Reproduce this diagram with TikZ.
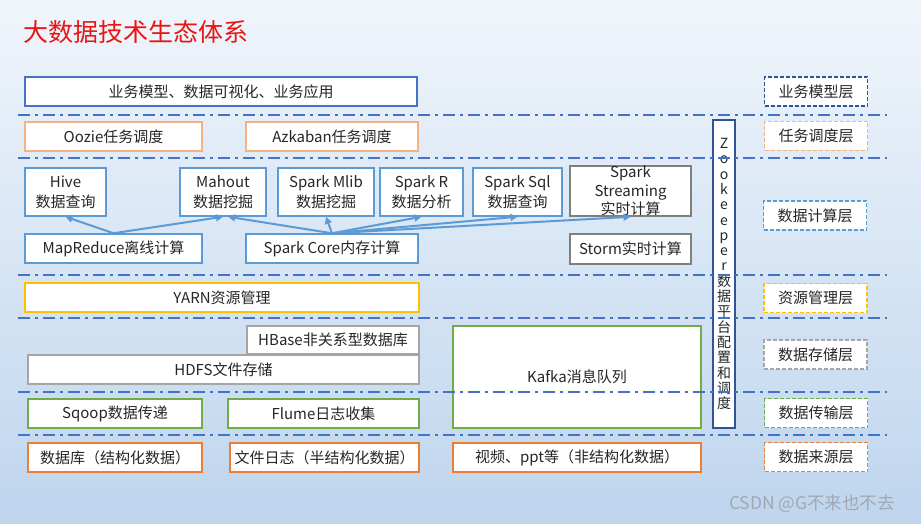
\documentclass[tikz,border=0pt]{standalone}
\usepackage{fontspec}
\setmainfont{Noto Sans CJK SC}
\usepackage{tikz}
\usetikzlibrary{arrows.meta}
\definecolor{sepblue}{HTML}{4472C4}
\definecolor{appblue}{HTML}{4472C4}
\definecolor{taskorange}{HTML}{F4B183}
\definecolor{calcblue}{HTML}{5B9BD5}
\definecolor{darkgray}{HTML}{7F7F7F}
\definecolor{lightgray}{HTML}{A5A5A5}
\definecolor{resyellow}{HTML}{FFC000}
\definecolor{transgreen}{HTML}{70AD47}
\definecolor{srcorange}{HTML}{ED7D31}
\definecolor{zkblue}{HTML}{2F5597}
\definecolor{txt}{HTML}{262626}
\newcommand{\boxfont}{\fontsize{15}{20}\selectfont}

\begin{document}
\begin{tikzpicture}[
  x=1pt, y=-1pt,
  box/.style={rectangle, fill=white, line width=1.5pt, inner sep=0pt, align=center, text=txt, font=\boxfont},
  appbox/.style={box, draw=appblue},
  taskbox/.style={box, draw=taskorange},
  calcbox/.style={box, draw=calcblue},
  rtbox/.style={box, draw=darkgray},
  resbox/.style={box, draw=resyellow},
  storebox/.style={box, draw=lightgray},
  transbox/.style={box, draw=transgreen},
  srcbox/.style={box, draw=srcorange},
  layerbox/.style={box, dash pattern=on 4pt off 2pt, minimum width=103, minimum height=29},
  arr/.style={-{Triangle[length=7pt,width=7pt]}, line width=2pt, calcblue},
  sepline/.style={sepblue, line width=1.6pt, dash pattern=on 12pt off 5pt on 3pt off 5pt}
]
% Background
\useasboundingbox (0,0) rectangle (921,524);
\fill[top color={rgb,255:red,240;green,245;blue,251}, middle color={rgb,255:red,200;green,220;blue,241},
      bottom color={rgb,255:red,190;green,213;blue,238}] (0,0) rectangle (921,524);

% Title
\node[font=\fontsize{25}{30}\selectfont, text={rgb,255:red,235;green,20;blue,20}, anchor=west] (title) at (20,32) {大数据技术生态体系};

% Business / scheduling
\node[appbox, minimum width=392, minimum height=29] (app) at (221,91.5) {业务模型、数据可视化、业务应用};
\node[taskbox, minimum width=177, minimum height=29] (oozie) at (113.5,136.5) {Oozie任务调度};
\node[taskbox, minimum width=172, minimum height=29] (azkaban) at (332,136.5) {Azkaban任务调度};

% Computing layer
\node[calcbox, minimum width=81, minimum height=48] (hive) at (65.5,192) {Hive\\数据查询};
\node[calcbox, minimum width=86, minimum height=48] (mahout) at (223,192) {Mahout\\数据挖掘};
\node[calcbox, minimum width=96, minimum height=48] (mlib) at (326,192) {Spark Mlib\\数据挖掘};
\node[calcbox, minimum width=83, minimum height=48] (sparkr) at (421.5,192) {Spark R\\数据分析};
\node[calcbox, minimum width=89, minimum height=48] (sparksql) at (517.5,192) {Spark Sql\\数据查询};
\node[rtbox, minimum width=121, minimum height=48, font=\fontsize{15}{18.5}\selectfont] (streaming) at (630.5,191) {Spark\\Streaming\\实时计算};
\node[calcbox, minimum width=177, minimum height=29] (mapreduce) at (113.5,248.5) {MapReduce离线计算};
\node[calcbox, minimum width=172, minimum height=29] (sparkcore) at (332,248.5) {Spark Core内存计算};
\node[rtbox, minimum width=121, minimum height=30] (storm) at (630.5,249) {Storm实时计算};

% Arrows: engines to applications
\draw[arr] (mapreduce.north) -- (hive.south);
\draw[arr] (mapreduce.north) -- (mahout.south);
\draw[arr] (sparkcore.north) -- ([xshift=5pt]mahout.south);
\draw[arr] (sparkcore.north) -- (mlib.south);
\draw[arr] (sparkcore.north) -- (sparkr.south);
\draw[arr] (sparkcore.north) -- (sparksql.south);
\draw[arr] (sparkcore.north) -- (streaming.south);

% Resources / storage
\node[resbox, minimum width=394, minimum height=29] (yarn) at (222,297.5) {YARN资源管理};
\node[storebox, minimum width=172, minimum height=28] (hbase) at (333,340) {HBase非关系型数据库};
\node[storebox, minimum width=391, minimum height=29] (hdfs) at (223.5,369.5) {HDFS文件存储};
\node[transbox, minimum width=248, minimum height=102] (kafka) at (577,377) {Kafka消息队列};

% Transfer / sources
\node[transbox, minimum width=174, minimum height=29] (sqoop) at (115,413.5) {Sqoop数据传递};
\node[transbox, minimum width=191, minimum height=29] (flume) at (323.5,413.5) {Flume日志收集};
\node[srcbox, minimum width=174, minimum height=29] (db) at (115,457.5) {数据库（结构化数据）};
\node[srcbox, minimum width=189, minimum height=29] (filelog) at (324.5,457.5) {文件日志（半结构化数据）};
\node[srcbox, minimum width=248, minimum height=29] (video) at (577,457.5) {视频、ppt等（非结构化数据）};

% Zookeeper column
\node[box, draw=zkblue, minimum width=22, minimum height=308, font=\fontsize{14}{15.3}\selectfont] (zk) at (724,274)
  {Z\\o\\o\\k\\e\\e\\p\\e\\r\\数\\据\\平\\台\\配\\置\\和\\调\\度};

% Layer separators
\foreach \y in {115,158,275,318,392,435}
  \draw[sepline] (18,\y) -- (887,\y);

% Layer labels
\node[layerbox, draw=zkblue] (lapp) at (816,91.5) {业务模型层};
\node[layerbox, draw=taskorange] (ltask) at (816,136) {任务调度层};
\node[layerbox, draw=calcblue] (lcalc) at (815,215.5) {数据计算层};
\node[layerbox, draw=resyellow] (lres) at (815.5,298) {资源管理层};
\node[layerbox, draw=lightgray] (lstore) at (815.5,354.5) {数据存储层};
\node[layerbox, draw=transgreen] (ltrans) at (816,413) {数据传输层};
\node[layerbox, draw=srcorange] (lsrc) at (816,457) {数据来源层};

% Watermark
\node[font=\fontsize{17.5}{20}\selectfont, text={rgb,255:red,160;green,168;blue,178}] (mark) at (812,504) {CSDN @G不来也不去};
\end{tikzpicture}
\end{document}
